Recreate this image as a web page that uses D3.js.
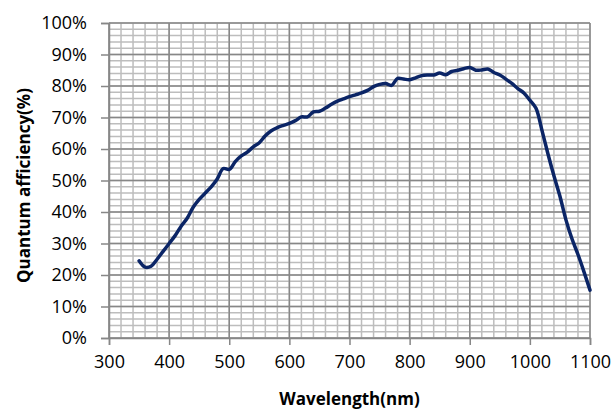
<!DOCTYPE html>
<html>
<head>
<meta charset="utf-8">
<script src="https://cdn.jsdelivr.net/npm/d3@7"></script>
<style>
  body { margin: 0; background: #fff; }
  .tick text { font-family: "Open Sans", sans-serif; font-size: 18px; fill: #000; }
  .axisText { font-family: "Open Sans", sans-serif; font-size: 17px; font-weight: bold; fill: #000; }
</style>
</head>
<body>
<div id="chart"></div>
<script>
// wavelength (nm) and quantum efficiency (%)
var wavelength = [350, 360, 370, 380, 390, 400, 410, 420, 430, 440, 450, 460, 470, 480, 490,
  500, 510, 520, 530, 540, 550, 560, 570, 580, 590, 600, 610, 620, 630, 640, 650, 660, 670,
  680, 690, 700, 710, 720, 730, 740, 750, 760, 770, 780, 790, 800, 810, 820, 830, 840, 850,
  860, 870, 880, 890, 900, 910, 920, 930, 940, 950, 960, 970, 980, 990, 1000, 1010, 1020,
  1030, 1040, 1050, 1060, 1070, 1080, 1090, 1100];
var efficiency = [24.5, 22.5, 22.8, 25, 27.5, 30, 32.5, 35.5, 38, 41.5, 44, 46, 48, 50.5, 53.8,
  53.5, 56, 57.8, 59, 60.7, 62, 64.2, 65.8, 66.8, 67.5, 68.1, 69, 70.2, 70.2, 71.8, 72, 73, 74.2,
  75.2, 75.9, 76.6, 77.2, 77.8, 78.6, 79.8, 80.5, 80.8, 80.2, 82.4, 82.2, 82, 82.6, 83.3, 83.5, 83.5, 84.1,
  83.6, 84.6, 85, 85.5, 85.9, 85.0, 85.1, 85.4, 84.3, 83.5, 82.2, 80.8, 79.2, 77.8, 75.5, 73, 66,
  58.5, 51.5, 45, 37.5, 31.5, 26.5, 21, 15.2];
var xTicks = [300, 400, 500, 600, 700, 800, 900, 1000, 1100];
var yTicks = [0, 10, 20, 30, 40, 50, 60, 70, 80, 90, 100];

var svgWidth = 614;
var svgHeight = 409;
var margin = {top: 23, right: 24, bottom: 71, left: 109};
var width = svgWidth - margin.left - margin.right;
var height = svgHeight - margin.top - margin.bottom;

var svg = d3.select("#chart")
  .append("svg")
  .attr("width", svgWidth)
  .attr("height", svgHeight);

var chartGroup = svg.append("g")
  .attr("transform", `translate(${margin.left}, ${margin.top})`);

var xScale = d3.scaleLinear().domain([300, 1100]).range([0, width]);
var yScale = d3.scaleLinear().domain([0, 100]).range([height, 0]);

// minor grid: every 20 nm and every 2 %
chartGroup.append("g")
  .selectAll("line")
  .data(d3.range(300, 1101, 20))
  .enter().append("line")
  .attr("x1", d => xScale(d)).attr("x2", d => xScale(d))
  .attr("y1", 0).attr("y2", height)
  .attr("stroke", "#bdbdbd").attr("stroke-width", 1.5);

chartGroup.append("g")
  .selectAll("line")
  .data(d3.range(0, 101, 2))
  .enter().append("line")
  .attr("x1", 0).attr("x2", width)
  .attr("y1", d => yScale(d)).attr("y2", d => yScale(d))
  .attr("stroke", "#bdbdbd").attr("stroke-width", 1.5);

// major grid
chartGroup.append("g")
  .selectAll("line")
  .data(xTicks)
  .enter().append("line")
  .attr("x1", d => xScale(d)).attr("x2", d => xScale(d))
  .attr("y1", 0).attr("y2", height)
  .attr("stroke", "#878787").attr("stroke-width", 1.5);

chartGroup.append("g")
  .selectAll("line")
  .data(yTicks)
  .enter().append("line")
  .attr("x1", 0).attr("x2", width)
  .attr("y1", d => yScale(d)).attr("y2", d => yScale(d))
  .attr("stroke", "#878787").attr("stroke-width", 1.5);

// axes
var bottomAxis = d3.axisBottom(xScale).tickValues(xTicks).tickSize(7).tickPadding(10)
  .tickFormat(d3.format("d"));
var leftAxis = d3.axisLeft(yScale).tickValues(yTicks).tickSize(8).tickPadding(14)
  .tickFormat(d => d + "%");

var xAxisG = chartGroup.append("g")
  .attr("transform", `translate(0, ${height})`)
  .call(bottomAxis);
var yAxisG = chartGroup.append("g")
  .call(leftAxis);

[xAxisG, yAxisG].forEach(function(g) {
  g.select(".domain").attr("stroke", "#878787").attr("stroke-width", 1.5);
  g.selectAll(".tick line").attr("stroke", "#878787").attr("stroke-width", 1.5);
});

// the curve
var points = wavelength.map((w, i) => [w, efficiency[i]]);
var line = d3.line()
  .x(d => xScale(d[0]))
  .y(d => yScale(d[1]))
  .curve(d3.curveCatmullRom);

chartGroup.append("path")
  .datum(points)
  .attr("d", line)
  .attr("fill", "none")
  .attr("stroke", "#0b2566")
  .attr("stroke-width", 3.5)
  .attr("stroke-linejoin", "round")
  .attr("stroke-linecap", "round");

// axis labels
chartGroup.append("text")
  .attr("class", "axisText")
  .attr("text-anchor", "middle")
  .attr("x", width / 2)
  .attr("y", height + 67)
  .text("Wavelength(nm)");

chartGroup.append("text")
  .attr("class", "axisText")
  .attr("text-anchor", "middle")
  .attr("transform", `translate(${30 - margin.left}, ${height / 2 + 5}) rotate(-90)`)
  .text("Quantum afficiency(%)");
</script>
</body>
</html>
